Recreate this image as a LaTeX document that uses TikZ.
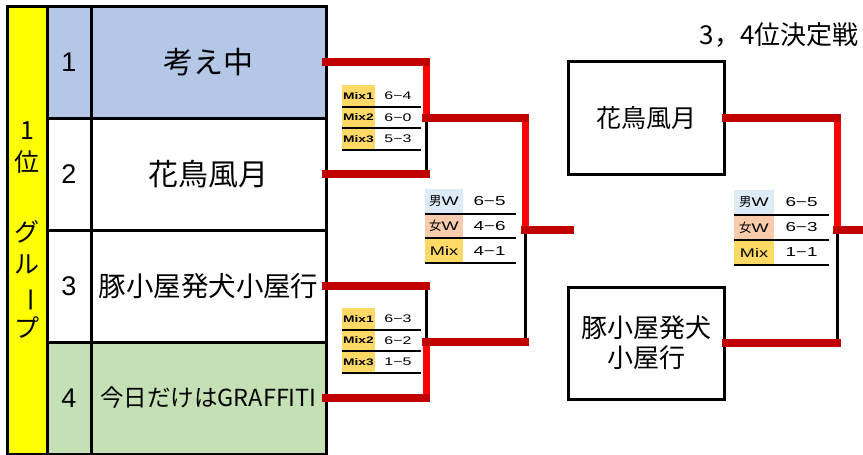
\documentclass[tikz,border=0pt]{standalone}
\usepackage{fontspec}
\usepackage{graphicx}
\setmainfont{Liberation Sans}
\newfontfamily\jpfont{Noto Sans CJK JP}
\newfontfamily\widefont[FakeStretch=1.45]{Liberation Sans}
\usepackage{tikz}
\usetikzlibrary{positioning}
\definecolor{rowblue}{HTML}{B4C7E7}
\definecolor{rowgreen}{HTML}{C5E0B4}
\definecolor{rankyellow}{HTML}{FFFF00}
\definecolor{mixgold}{HTML}{FFD966}
\definecolor{menblue}{HTML}{DDEBF7}
\definecolor{womenpeach}{HTML}{F8CBAD}
\definecolor{winred}{HTML}{FF0000}
\definecolor{pathred}{HTML}{C00000}
\tikzset{
	cell/.style={draw=black, line width=3pt, inner sep=0pt, outer sep=0pt, minimum height=112pt},
	numcell/.style={cell, minimum width=44pt, font=\fontsize{27}{27}\selectfont},
	namecell/.style={cell, minimum width=235pt, font=\jpfont\fontsize{30}{30}\selectfont},
	teambox/.style={draw=black, line width=3pt, inner sep=0pt, minimum width=156pt, align=center, font=\jpfont\fontsize{25}{30}\selectfont},
	mixlab/.style={inner sep=0pt, outer sep=0pt, anchor=north west, fill=mixgold, minimum width=33pt, minimum height=21.5pt, font=\widefont\bfseries\fontsize{9.5}{9.5}\selectfont},
	mixscore/.style={inner sep=0pt, outer sep=0pt, minimum width=46pt, minimum height=21.5pt, font=\widefont\fontsize{11}{11}\selectfont},
	catlab/.style={inner sep=0pt, outer sep=0pt, anchor=north west, minimum width=38pt, minimum height=24.7pt, font=\widefont\fontsize{12.5}{12.5}\selectfont},
	catscore/.style={inner sep=0pt, outer sep=0pt, minimum width=53pt, minimum height=24.7pt, font=\widefont\fontsize{13}{13}\selectfont},
	rowline/.style={draw=black, line width=2pt},
	pathline/.style={draw=pathred, line width=8pt, line cap=rect},
	winline/.style={draw=winred, line width=7pt},
	loseline/.style={draw=black, line width=3pt}
}
\begin{document}
\begin{tikzpicture}[x=1pt,y=-1pt]
		\useasboundingbox (0,0) rectangle (863,455);
		% group table
		\node [cell, fill=rankyellow, minimum width=40pt, minimum height=448pt] at (27,230) (0Rank) {};
		\node [align=center, font=\jpfont\fontsize{25}{32}\selectfont] at (27,230) (0RankText) {1\\位\\[38pt]グ\\ル\\\rotatebox[origin=c]{-90}{ー}\\プ};
		\node [numcell, fill=rowblue] at (69,62) (1Num) {1};
		\node [namecell, fill=rowblue, right=0pt of 1Num] (1Team) {考え中};
		\node [numcell, below=0pt of 1Num] (2Num) {2};
		\node [namecell, right=0pt of 2Num] (2Team) {花鳥風月};
		\node [numcell, below=0pt of 2Num] (3Num) {3};
		\node [namecell, right=0pt of 3Num, font=\jpfont\fontsize{27.5}{27.5}\selectfont] (3Team) {豚小屋発犬小屋行};
		\node [numcell, fill=rowgreen, below=0pt of 3Num] (4Num) {4};
		\node [namecell, fill=rowgreen, right=0pt of 4Num, font=\jpfont\fontsize{23.5}{23.5}\selectfont] (4Team) {今日だけはGRAFFITI};
		% third place match
		\node [font=\jpfont\fontsize{26}{26}\selectfont, anchor=east] at (862,35) (3rdTitle) {3，4位決定戦};
		\node [teambox, minimum height=113pt] at (646,117.5) (3rdA) {花鳥風月};
		\node [teambox, minimum height=112pt, font=\jpfont\fontsize{26}{30}\selectfont] at (646,343) (3rdB) {豚小屋発犬\\小屋行};
		% bracket joints
		\coordinate (1Corner) at (426,62);
		\coordinate (2Corner) at (426,174);
		\coordinate (3Corner) at (426,286);
		\coordinate (4Corner) at (426,398);
		\coordinate (12Mid) at (426,118);
		\coordinate (34Mid) at (426,342);
		\coordinate (12Up) at (525,118);
		\coordinate (34Down) at (525,342);
		\coordinate (FinalMid) at (525,230);
		\coordinate (FinalEnd) at (570,230);
		\coordinate (3rdUp) at (837,117.5);
		\coordinate (3rdDown) at (837,343);
		\coordinate (3rdMid) at (837,230);
		\coordinate (3rdEnd) at (863,230);
		\draw [loseline] (12Mid) -- (2Corner);
		\draw [loseline] (3Corner) -- (34Mid);
		\draw [loseline] (FinalMid) -- (34Down);
		\draw [loseline] (3rdMid) -- (3rdDown);
		\draw [winline] (1Corner) -- (12Mid);
		\draw [winline] (4Corner) -- (34Mid);
		\draw [winline] (12Up) -- (FinalMid);
		\draw [winline] (3rdUp) -- (3rdMid);
		\draw [pathline] (1Team.east) -- (1Corner);
		\draw [pathline] (2Team.east) -- (2Corner);
		\draw [pathline] (3Team.east) -- (3Corner);
		\draw [pathline] (4Team.east) -- (4Corner);
		\draw [pathline] (12Mid) -- (12Up);
		\draw [pathline] (34Mid) -- (34Down);
		\draw [pathline] (FinalMid) -- (FinalEnd);
		\draw [pathline] (3rdA.east) -- (3rdUp);
		\draw [pathline] (3rdB.east) -- (3rdDown);
		\draw [pathline] (3rdMid) -- (3rdEnd);
		% scores, upper semi-final
		\node [mixlab] at (342,85) (u1L) {Mix1};
		\node [mixscore, right=0pt of u1L] (u1S) {6−4};
		\node [mixlab, below=0pt of u1L] (u2L) {Mix2};
		\node [mixscore, right=0pt of u2L] (u2S) {6−0};
		\node [mixlab, below=0pt of u2L] (u3L) {Mix3};
		\node [mixscore, right=0pt of u3L] (u3S) {5−3};
		\draw [rowline] (u1L.south west) -- (u1S.south east);
		\draw [rowline] (u2L.south west) -- (u2S.south east);
		\draw [rowline] (u3L.south west) -- (u3S.south east);
		% scores, lower semi-final
		\node [mixlab] at (342,308) (l1L) {Mix1};
		\node [mixscore, right=0pt of l1L] (l1S) {6−3};
		\node [mixlab, below=0pt of l1L] (l2L) {Mix2};
		\node [mixscore, right=0pt of l2L] (l2S) {6−2};
		\node [mixlab, below=0pt of l2L] (l3L) {Mix3};
		\node [mixscore, right=0pt of l3L] (l3S) {1−5};
		\draw [rowline] (l1L.south west) -- (l1S.south east);
		\draw [rowline] (l2L.south west) -- (l2S.south east);
		\draw [rowline] (l3L.south west) -- (l3S.south east);
		% scores, final
		\node [catlab, fill=menblue] at (425,189) (f1L) {{\jpfont 男}W};
		\node [catscore, right=0pt of f1L] (f1S) {6−5};
		\node [catlab, fill=womenpeach, below=0pt of f1L] (f2L) {{\jpfont 女}W};
		\node [catscore, right=0pt of f2L] (f2S) {4−6};
		\node [catlab, fill=mixgold, below=0pt of f2L] (f3L) {Mix};
		\node [catscore, right=0pt of f3L] (f3S) {4−1};
		\draw [rowline] (f1L.south west) -- (f1S.south east);
		\draw [rowline] (f2L.south west) -- (f2S.south east);
		\draw [rowline] (f3L.south west) -- (f3S.south east);
		% scores, third place
		\node [catlab, fill=menblue, minimum width=40pt, minimum height=25pt] at (734,190) (t1L) {{\jpfont 男}W};
		\node [catscore, minimum width=55pt, minimum height=25pt, right=0pt of t1L] (t1S) {6−5};
		\node [catlab, fill=womenpeach, minimum width=40pt, minimum height=25pt, below=0pt of t1L] (t2L) {{\jpfont 女}W};
		\node [catscore, minimum width=55pt, minimum height=25pt, right=0pt of t2L] (t2S) {6−3};
		\node [catlab, fill=mixgold, minimum width=40pt, minimum height=25pt, below=0pt of t2L] (t3L) {Mix};
		\node [catscore, minimum width=55pt, minimum height=25pt, right=0pt of t3L] (t3S) {1−1};
		\draw [rowline] (t1L.south west) -- (t1S.south east);
		\draw [rowline] (t2L.south west) -- (t2S.south east);
		\draw [rowline] (t3L.south west) -- (t3S.south east);
		
		\end{tikzpicture}
\end{document}
